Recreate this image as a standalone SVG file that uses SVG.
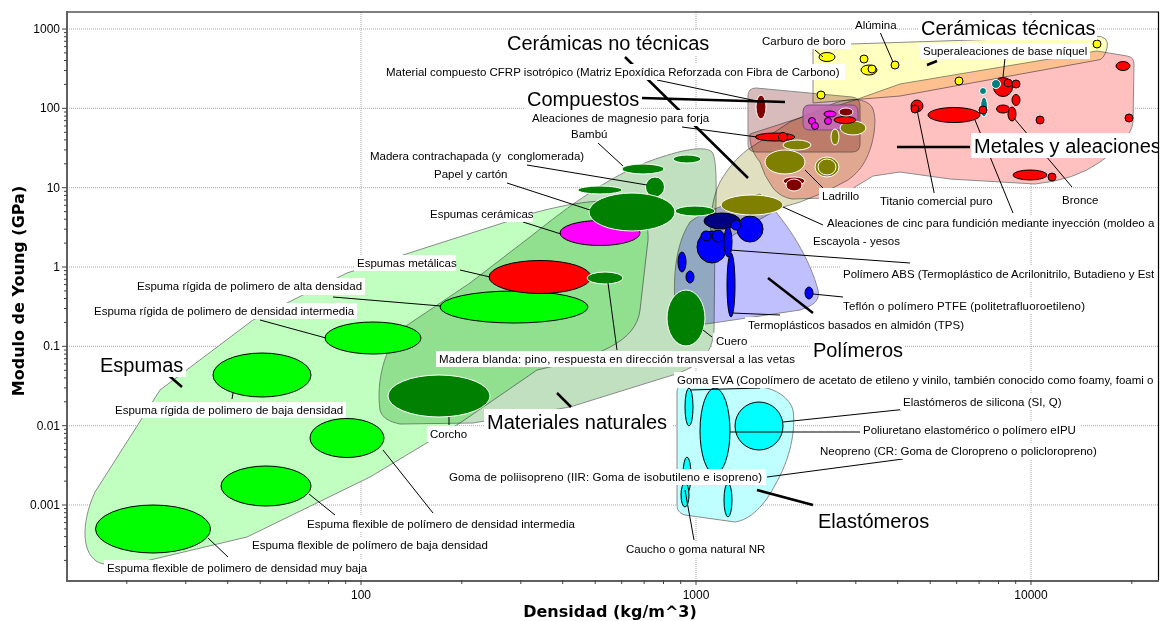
<svg xmlns="http://www.w3.org/2000/svg" width="1163" height="621" viewBox="0 0 1163 621">
<defs>
<style>
.env{stroke:#8a8a8a;stroke-width:1;mix-blend-mode:multiply}
.grid{stroke:#a8a8a8;stroke-width:1;stroke-dasharray:1 1;fill:none}
.t{font-family:"Liberation Sans",Arial,sans-serif;font-size:11.5px;fill:#000}
.big{font-family:"Liberation Sans",Arial,sans-serif;font-size:20px;fill:#000}
.ax{font-family:"Liberation Sans",Arial,sans-serif;font-size:12px;fill:#000}
.ttl{font-family:"DejaVu Sans",Verdana,sans-serif;font-size:16px;font-weight:bold;fill:#000}
.bx{fill:#fff}
.ld{stroke:#000;stroke-width:1;fill:none}
.lb{stroke:#000;stroke-width:2.5;fill:none}
.fo{fill:#00ff00;stroke:#000;stroke-width:1}
.na{fill:#008000;stroke:#fff;stroke-width:1}
.me{fill:#ff0000;stroke:#000;stroke-width:1}
.dr{fill:#800000;stroke:#fff;stroke-width:1}
.ce{fill:#ffff00;stroke:#000;stroke-width:1}
.po{fill:#0000ff;stroke:#000;stroke-width:1}
.pn{fill:#000080;stroke:#000;stroke-width:1}
.el{fill:#00ffff;stroke:#000;stroke-width:1}
.ol{fill:#808000;stroke:#fff;stroke-width:1}
.mg{fill:#ff00ff;stroke:#000;stroke-width:1}
.tl{fill:#008080;stroke:#fff;stroke-width:1}
</style>
<clipPath id="plot"><rect x="67" y="12" width="1091" height="568"/></clipPath>
</defs>
<rect width="1163" height="621" fill="#fff"/>
<g id="grid">
<path class="grid" d="M67,29H1158M67,108.3H1158M67,187.7H1158M67,267H1158M67,346.3H1158M67,425.7H1158M67,505H1158M361,12V580M696,12V580M1031,12V580"/>
</g>
<g id="envelopes" clip-path="url(#plot)">
<path id="env-espumas" class="env" fill="#c0ffc0" d="M100,563 C82,556 80,525 95,492 L160,390 L253,320 L347,273 L537,212 C600,196 650,192 648,240 L640,310 C636,342 600,356 537,370 L460,423 L370,477 L247,537 L150,560 C125,566 110,566 100,563 Z"/>
<path id="env-naturales" class="env" fill="#c0e0c0" d="M380,410 C376,380 385,350 400,330 L470,283 L530,237 C570,205 610,176 650,161 C680,150 705,145 712,152 C718,160 716,200 715,240 L714,330 C712,355 700,368 663,378 L570,407 L473,423 L400,424 C390,422 382,418 380,410 Z"/>
<path id="env-polimeros" class="env" fill="#c0c0ff" d="M676,320 C672,280 675,245 690,222 C705,210 740,200 760,194 C790,225 810,260 818,290 C820,300 815,305 800,310 L713,323 C690,326 678,326 676,320 Z"/>
<path id="env-elastomeros" class="env" fill="#c0ffff" d="M677,392 C677,387 680,385 690,386 L760,387 C775,388 790,398 793,410 C796,430 790,460 775,485 C765,505 750,520 735,522 L685,515 C679,513 677,510 677,505 Z"/>
<path id="env-ceramicas-no-tecnicas" class="env" fill="#e0e0c0" d="M712,246 C709,225 711,200 720,182 C728,168 737,158 747,150 L790,122 L835,103 C850,98 866,98 872,107 C876,115 875,125 874,133 C872,145 870,150 867,157 C862,168 856,174 848,180 L825,192 L800,202 L780,208 L755,222 L730,237 C722,242 714,250 712,246 Z"/>
<path id="env-ceramicas-tecnicas" class="env" fill="#ffffc0" d="M813,103 L813,50 Q813,45 820,45 L1095,36 Q1110,36 1107,48 Q1104,60 1098,60 L900,96 Z"/>
<path id="env-metales" class="env" fill="#ffc0c0" d="M750,140 L750,134 L858,99 L900,84 L1097,51 L1127,56 Q1134,57 1134,64 L1133,122 Q1131,140 1100,162 Q1075,180 1035,184 L950,179 L900,172 L873,176 L850,190 Q838,197 827,198 L792,199 Q780,197 773,188 Q764,176 760,162 Q752,153 750,140 Z"/>
<path id="env-compuestos" class="env" fill="#d8bcbc" d="M756,88 L852,97 Q860,98 860,106 L860,144 Q860,152 852,152 L756,152 Q748,152 748,144 L748,96 Q748,88 756,88 Z"/>
<path id="env-vidrios" fill="#c46ab4" fill-opacity="0.9" stroke="#7a4a7a" stroke-width="1" d="M803,112 Q803,105 810,105 L852,105 Q858,105 858,112 L858,124 Q858,130 851,130 L810,130 Q803,130 803,124 Z"/>
</g>
<g id="bubbles" clip-path="url(#plot)">
<g id="foams">
<ellipse class="fo" cx="153" cy="529" rx="57.5" ry="24"/>
<ellipse class="fo" cx="266" cy="486" rx="45" ry="20"/>
<ellipse class="fo" cx="347" cy="438" rx="37" ry="19.5"/>
<ellipse class="fo" cx="262" cy="375" rx="49" ry="22"/>
<ellipse class="fo" cx="373" cy="338" rx="48" ry="16"/>
<ellipse class="fo" cx="514" cy="307" rx="74" ry="16"/>
<ellipse class="me" cx="540" cy="277" rx="51" ry="16.5"/>
<ellipse class="mg" cx="600" cy="233" rx="40" ry="12.5"/>
</g>
<g id="naturals">
<ellipse class="na" cx="439" cy="396" rx="51" ry="21"/>
<ellipse class="na" cx="605" cy="278" rx="18" ry="6"/>
<ellipse class="na" cx="600" cy="190" rx="22" ry="4"/>
<ellipse class="na" cx="643" cy="169" rx="21" ry="5"/>
<ellipse class="na" cx="687" cy="159" rx="14" ry="4"/>
<ellipse class="na" cx="655" cy="187" rx="9.5" ry="10"/>
<ellipse class="na" cx="632" cy="212" rx="43" ry="19"/>
<ellipse class="na" cx="695" cy="211" rx="20" ry="5"/>
<ellipse class="na" cx="686" cy="318" rx="19" ry="28"/>
</g>
<g id="polymers">
<ellipse class="pn" cx="722" cy="221" rx="18" ry="8"/>
<ellipse class="po" cx="750" cy="229" rx="13" ry="13"/>
<ellipse class="po" cx="712" cy="247" rx="15" ry="16"/>
<ellipse class="po" cx="728" cy="242" rx="4" ry="15"/>
<ellipse class="po" cx="731" cy="285" rx="4" ry="32"/>
<ellipse class="po" cx="718" cy="236" rx="6" ry="6"/>
<ellipse class="po" cx="736" cy="225" rx="5" ry="5"/>
<ellipse class="po" cx="706" cy="236" rx="5" ry="5"/>
<ellipse class="po" cx="682" cy="262" rx="4" ry="10"/>
<ellipse class="po" cx="690" cy="277" rx="4" ry="6"/>
<ellipse class="po" cx="809" cy="293" rx="4" ry="6"/>
</g>
<g id="elastomers">
<ellipse class="el" cx="689" cy="407" rx="4" ry="19"/>
<ellipse class="el" cx="715" cy="431" rx="15" ry="43"/>
<circle class="el" cx="759" cy="426" r="24"/>
<ellipse class="el" cx="687" cy="475" rx="4" ry="18"/>
<ellipse class="el" cx="685" cy="495" rx="4" ry="12"/>
<ellipse class="el" cx="728" cy="500" rx="4" ry="17"/>
</g>
<g id="nontech">
<ellipse class="ol" cx="752" cy="205" rx="31" ry="10"/>
<ellipse class="ol" cx="785" cy="162" rx="20" ry="12"/>
<ellipse class="ol" cx="797" cy="145" rx="14" ry="5"/>
<ellipse class="ol" cx="827" cy="167" rx="12" ry="10"/>
<ellipse class="ol" cx="827" cy="167" rx="9" ry="8"/>
<ellipse class="ol" cx="835" cy="137" rx="4" ry="8"/>
<ellipse class="ol" cx="853" cy="128" rx="13" ry="7"/>
<ellipse class="dr" cx="794" cy="181" rx="11" ry="4"/>
<ellipse class="dr" cx="794" cy="185" rx="8" ry="6"/>
</g>
<g id="metals">
<ellipse class="dr" cx="761" cy="107" rx="5" ry="12"/>
<ellipse class="me" cx="775" cy="137" rx="20" ry="4"/>
<circle class="me" cx="783" cy="137" r="4.5"/>
<circle class="mg" cx="812" cy="121" r="3.5"/>
<circle class="mg" cx="815" cy="126" r="3.5"/>
<circle class="mg" cx="828" cy="121" r="3.5"/>
<ellipse class="mg" cx="830" cy="114" rx="6" ry="3"/>
<ellipse class="me" cx="845" cy="120" rx="11" ry="3.5"/>
<ellipse class="dr" cx="846" cy="112" rx="7" ry="4"/>
<circle class="me" cx="917" cy="106" r="6"/>
<circle class="me" cx="915" cy="109" r="4"/>
<ellipse class="me" cx="954" cy="115" rx="26" ry="7.5"/>
<circle class="tl" cx="983" cy="91" r="3.5"/>
<ellipse class="tl" cx="984" cy="107" rx="3.5" ry="10"/>
<circle class="me" cx="983" cy="110" r="4"/>
<circle class="me" cx="1003" cy="87" r="9.5"/>
<circle class="tl" cx="996" cy="84" r="4.5"/>
<circle class="me" cx="1008" cy="83" r="4"/>
<circle class="me" cx="1016" cy="84" r="4"/>
<ellipse class="me" cx="1016" cy="100" rx="4" ry="5.5"/>
<ellipse class="me" cx="1003" cy="109" rx="6.5" ry="4"/>
<ellipse class="me" cx="1012" cy="114" rx="4" ry="7"/>
<circle class="me" cx="1040" cy="120" r="4"/>
<circle class="me" cx="1129" cy="118" r="4"/>
<ellipse class="me" cx="1123" cy="66" rx="7" ry="4.5"/>
<ellipse class="me" cx="1030" cy="175" rx="17" ry="5"/>
<circle class="me" cx="1052" cy="177" r="4"/>
</g>
<g id="techceramics">
<ellipse class="ce" cx="827" cy="57" rx="8" ry="4.5"/>
<circle class="ce" cx="864" cy="59" r="4"/>
<ellipse class="ce" cx="869" cy="70" rx="8" ry="5"/>
<circle class="ce" cx="872" cy="69" r="4"/>
<circle class="ce" cx="895" cy="65" r="4"/>
<circle class="ce" cx="959" cy="81" r="4"/>
<circle class="ce" cx="821" cy="95" r="4"/>
<circle class="ce" cx="1097" cy="44" r="4"/>
</g>
</g>
<g id="connectors" clip-path="url(#plot)">
<path class="lb" d="M625,57L748,178M642,98L785,102M927,65L937,61M897,147L970,147M768,278L813,313M557,393L571,407M166,373L182,387M757,490L813,505"/>
<path class="ld" d="M657,80L757,101M682,127L757,137M598,143L623,166M527,165L647,185M507,183L590,210M523,222L561,234M460,270L490,277M333,297L441,306M260,320L326,338M233,393L232,399M383,450L433,513M309,494L335,515M208,538L228,557M449,417L449,425M608,283L617,350M703,330L712,337M690,390L760,388M783,422L907,409M730,432L860,432M767,477L903,459M685,490L694,540M730,250L910,263M813,294L843,297M732,313L780,315M975,120L1013,213M783,207L823,225M805,170L828,193M917,110L935,197M1013,117L1072,187M815,50L823,57M880,32L893,62M1005,58L1003,77"/>
</g>
<g id="labels" clip-path="url(#plot)">
<g id="l-cfrp"><rect class="bx" x="383" y="64" width="462" height="16"/><text class="t" x="386" y="76">Material compuesto CFRP isotrópico (Matriz Epoxídica Reforzada con Fibra de Carbono)</text></g>
<g id="l-mg"><rect class="bx" x="529" y="110" width="186" height="16"/><text class="t" x="532" y="122">Aleaciones de magnesio para forja</text></g>
<g id="l-bambu"><rect class="bx" x="568" y="126" width="42" height="16"/><text class="t" x="571" y="138">Bambú</text></g>
<g id="l-contrachapada"><rect class="bx" x="367" y="148" width="226" height="16"/><text class="t" x="370" y="160" style="white-space:pre">Madera contrachapada (y  conglomerada)</text></g>
<g id="l-papel"><rect class="bx" x="431" y="166" width="80" height="16"/><text class="t" x="434" y="178">Papel y cartón</text></g>
<g id="l-esp-cer"><rect class="bx" x="427" y="206" width="106" height="16"/><text class="t" x="430" y="218">Espumas cerámicas</text></g>
<g id="l-esp-met"><rect class="bx" x="354" y="255" width="102" height="16"/><text class="t" x="357" y="267">Espumas metálicas</text></g>
<g id="l-rig-alta"><rect class="bx" x="134" y="278" width="231" height="17"/><text class="t" x="137" y="290">Espuma rígida de polimero de alta densidad</text></g>
<g id="l-rig-int"><rect class="bx" x="91" y="303" width="266" height="16"/><text class="t" x="94" y="315">Espuma rígida de polimero de densidad intermedia</text></g>
<g id="l-rig-baja"><rect class="bx" x="112" y="402" width="234" height="16"/><text class="t" x="115" y="414">Espuma rígida de polimero de baja densidad</text></g>
<g id="l-corcho"><rect class="bx" x="427" y="426" width="44" height="16"/><text class="t" x="430" y="438">Corcho</text></g>
<g id="l-flex-int"><rect class="bx" x="304" y="516" width="274" height="16"/><text class="t" x="307" y="528">Espuma flexible de polímero de densidad intermedia</text></g>
<g id="l-flex-baja"><rect class="bx" x="249" y="537" width="242" height="16"/><text class="t" x="252" y="549">Espuma flexible de polímero de baja densidad</text></g>
<g id="l-flex-muy"><rect class="bx" x="104" y="560" width="267" height="16"/><text class="t" x="107" y="572">Espuma flexible de polimero de densidad muy baja</text></g>
<g id="l-madera"><rect class="bx" x="436" y="351" width="362" height="16"/><text class="t" x="439" y="363" textLength="356">Madera blanda: pino, respuesta en dirección transversal a las vetas</text></g>
<g id="l-cuero"><rect class="bx" x="713" y="333" width="38" height="16"/><text class="t" x="716" y="345">Cuero</text></g>
<g id="l-eva"><rect class="bx" x="674" y="372" width="484" height="16"/><text class="t" x="677" y="384">Goma EVA (Copolímero de acetato de etileno y vinilo, también conocido como foamy, foami o</text></g>
<g id="l-silicona"><rect class="bx" x="900" y="394" width="166" height="16"/><text class="t" x="903" y="406">Elastómeros de silicona (SI, Q)</text></g>
<g id="l-pu"><rect class="bx" x="860" y="422" width="220" height="16"/><text class="t" x="863" y="434">Poliuretano elastomérico o polímero eIPU</text></g>
<g id="l-neopreno"><rect class="bx" x="817" y="443" width="284" height="16"/><text class="t" x="820" y="455">Neopreno (CR: Goma de Cloropreno o policloropreno)</text></g>
<g id="l-iir"><rect class="bx" x="446" y="469" width="320" height="16"/><text class="t" x="449" y="481" textLength="313">Goma de poliisopreno (IIR: Goma de isobutileno e isopreno)</text></g>
<g id="l-caucho"><rect class="bx" x="623" y="541" width="145" height="16"/><text class="t" x="626" y="553">Caucho o goma natural NR</text></g>
<g id="l-abs"><rect class="bx" x="840" y="266" width="318" height="16"/><text class="t" x="843" y="278">Polímero ABS (Termoplástico de Acrilonitrilo, Butadieno y Est</text></g>
<g id="l-teflon"><rect class="bx" x="840" y="298" width="248" height="16"/><text class="t" x="843" y="310" textLength="242">Teflón o polímero PTFE (politetrafluoroetileno)</text></g>
<g id="l-tps"><rect class="bx" x="745" y="317" width="222" height="16"/><text class="t" x="748" y="329">Termoplásticos basados en almidón (TPS)</text></g>
<g id="l-cinc"><rect class="bx" x="824" y="215" width="334" height="16"/><text class="t" x="827" y="227">Aleaciones de cinc para fundición mediante inyección (moldeo a</text></g>
<g id="l-escayola"><rect class="bx" x="810" y="233" width="93" height="16"/><text class="t" x="813" y="245">Escayola - yesos</text></g>
<g id="l-ladrillo"><rect class="bx" x="819" y="188" width="41" height="16"/><text class="t" x="822" y="200">Ladrillo</text></g>
<g id="l-titanio"><rect class="bx" x="877" y="193" width="119" height="16"/><text class="t" x="880" y="205">Titanio comercial puro</text></g>
<g id="l-bronce"><rect class="bx" x="1059" y="192" width="41" height="16"/><text class="t" x="1062" y="204">Bronce</text></g>
<g id="l-carburo"><rect class="bx" x="759" y="33" width="92" height="16"/><text class="t" x="762" y="45">Carburo de boro</text></g>
<g id="l-alumina"><rect class="bx" x="852" y="17" width="45" height="16"/><text class="t" x="855" y="29">Alúmina</text></g>
<g id="l-superal"><rect class="bx" x="920" y="43" width="170" height="16"/><text class="t" x="923" y="55">Superaleaciones de base níquel</text></g>
<g id="L-cer-no"><rect class="bx" x="504" y="30" width="210" height="25"/><text class="big" x="507" y="50">Cerámicas no técnicas</text></g>
<g id="L-comp"><rect class="bx" x="524" y="86" width="117" height="25"/><text class="big" x="527" y="106">Compuestos</text></g>
<g id="L-cer-tec"><rect class="bx" x="918" y="15" width="179" height="25"/><text class="big" x="921" y="35">Cerámicas técnicas</text></g>
<g id="L-metales"><rect class="bx" x="971" y="133" width="190" height="25"/><text class="big" x="974" y="153">Metales y aleaciones</text></g>
<g id="L-polimeros"><rect class="bx" x="810" y="337" width="95" height="25"/><text class="big" x="813" y="357">Polímeros</text></g>
<g id="L-naturales"><rect class="bx" x="484" y="409" width="189" height="25"/><text class="big" x="487" y="429">Materiales naturales</text></g>
<g id="L-espumas"><rect class="bx" x="97" y="352" width="89" height="25"/><text class="big" x="100" y="372">Espumas</text></g>
<g id="L-elastomeros"><rect class="bx" x="815" y="508" width="116" height="25"/><text class="big" x="818" y="528">Elastómeros</text></g>
</g>
<g id="axes">
<path d="M67,12H1158.5V580" stroke="#000" stroke-width="1.2" fill="none"/>
<path d="M67,11V581H1159" stroke="#606060" stroke-width="2" fill="none"/>
<path stroke="#404040" stroke-width="1" fill="none" d="M62,29H67M62,108.3H67M62,187.7H67M62,267H67M62,346.3H67M62,425.7H67M62,505H67M64,560.4H67M64,546.5H67M64,536.6H67M64,528.9H67M64,522.6H67M64,517.3H67M64,512.7H67M64,508.6H67M64,481.1H67M64,467.2H67M64,457.2H67M64,449.6H67M64,443.3H67M64,438H67M64,433.4H67M64,429.3H67M64,401.8H67M64,387.9H67M64,377.9H67M64,370.3H67M64,364H67M64,358.7H67M64,354.1H67M64,350H67M64,322.4H67M64,308.5H67M64,298.5H67M64,290.9H67M64,284.6H67M64,279.3H67M64,274.7H67M64,270.6H67M64,243.1H67M64,229.2H67M64,219.2H67M64,211.6H67M64,205.3H67M64,200H67M64,195.4H67M64,191.3H67M64,163.8H67M64,149.9H67M64,139.9H67M64,132.3H67M64,126H67M64,120.7H67M64,116.1H67M64,112H67M64,84.4H67M64,70.5H67M64,60.5H67M64,52.9H67M64,46.6H67M64,41.3H67M64,36.7H67M64,32.6H67"/>
<path stroke="#404040" stroke-width="1" fill="none" d="M126.8,580V584M185.8,580V584M227.7,580V584M260.2,580V584M286.7,580V584M309.1,580V584M328.5,580V584M345.7,580V584M361,580V585M461.8,580V584M520.8,580V584M562.7,580V584M595.2,580V584M621.7,580V584M644.1,580V584M663.5,580V584M680.7,580V584M696,580V585M796.8,580V584M855.8,580V584M897.7,580V584M930.2,580V584M956.7,580V584M979.1,580V584M998.5,580V584M1015.7,580V584M1031,580V585M1131.8,580V584"/>
<text class="ax" x="60" y="33" text-anchor="end">1000</text>
<text class="ax" x="60" y="112" text-anchor="end">100</text>
<text class="ax" x="60" y="192" text-anchor="end">10</text>
<text class="ax" x="60" y="271" text-anchor="end">1</text>
<text class="ax" x="60" y="350" text-anchor="end">0.1</text>
<text class="ax" x="60" y="430" text-anchor="end">0.01</text>
<text class="ax" x="60" y="509" text-anchor="end">0.001</text>
<text class="ax" x="361" y="599" text-anchor="middle">100</text>
<text class="ax" x="696" y="599" text-anchor="middle">1000</text>
<text class="ax" x="1031" y="599" text-anchor="middle">10000</text>
<text class="ttl" x="610" y="617" text-anchor="middle">Densidad (kg/m^3)</text>
<text class="ttl" transform="translate(24,291) rotate(-90)" text-anchor="middle">Modulo de Young (GPa)</text>
</g>
</svg>
